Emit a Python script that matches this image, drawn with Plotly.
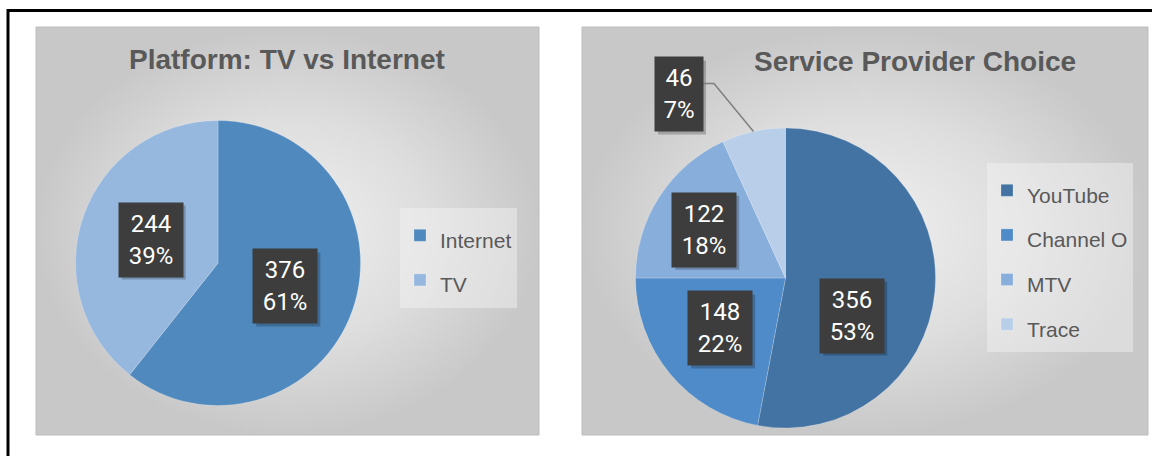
import math
import plotly.graph_objects as go

W, H = 1152, 456

# ---------------- data ----------------
platform_labels = ["Internet", "TV"]
platform_values = [376, 244]

provider_labels = ["YouTube", "Channel O", "MTV", "Trace"]
provider_values = [356, 148, 122, 46]

title_left = "Platform: TV vs Internet"
title_right = "Service Provider Choice"

# ---------------- style ----------------
platform_colors = ["#4F89BD", "#96B8DF"]
provider_colors = ["#4373A3", "#4F8BC9", "#88AEDC", "#B8CEE9"]

PIE1 = dict(cx=218, cy=263, r=142.5)
PIE2 = dict(cx=785.5, cy=278, r=150)

# label placement (fraction of radius, angle nudge in degrees)
pie1_label_f = [0.50, 0.50]
pie1_label_da = [0, 0]
pie2_label_f = [0.51, 0.55, 0.63, 1.415]
pie2_label_da = [24, 2, -2, -17.8]

PANEL_L = (36, 27, 539, 435)
PANEL_R = (582, 27, 1148, 435)

TEXT_GREY = "#595959"
FONT = "Liberation Sans"
LABEL_FONT = "Roboto"
LEGEND_TEXT_SIZE = 21
LEGEND_LINE_SIZE = 32   # controls row pitch of the legend
BOX_H = 58
BOX_PAD = 8


def px(x):
    return x / W


def py(y):
    return 1 - y / H


def domain(p):
    return dict(x=[px(p["cx"] - p["r"]), px(p["cx"] + p["r"])],
                y=[py(p["cy"] + p["r"]), py(p["cy"] - p["r"])])


def legend_text(labels):
    return [f'<span style="font-size:{LEGEND_TEXT_SIZE}px">{l}</span>' for l in labels]


fig = go.Figure()

# panel backgrounds with radial gradient
for (x0, y0, x1, y1) in (PANEL_L, PANEL_R):
    fig.add_trace(go.Scatter(
        x=[px(x0), px(x1), px(x1), px(x0), px(x0)],
        y=[py(y0), py(y0), py(y1), py(y1), py(y0)],
        mode="lines", fill="toself",
        line=dict(color="#BDBDBD", width=1),
        fillgradient=dict(type="radial",
                          colorscale=[[0, "#F0F0F0"], [0.55, "#DEDEDE"], [1, "#C8C8C8"]]),
        hoverinfo="skip", showlegend=False))

fig.add_trace(go.Pie(
    labels=legend_text(platform_labels), values=platform_values, sort=False,
    direction="clockwise", rotation=0,
    marker=dict(colors=platform_colors, line=dict(color="rgba(255,255,255,0.35)", width=0.6)),
    textinfo="none", domain=domain(PIE1), legend="legend",
    customdata=platform_labels, hovertemplate="%{customdata}: %{value} (%{percent})<extra></extra>"))

fig.add_trace(go.Pie(
    labels=legend_text(provider_labels), values=provider_values, sort=False,
    direction="clockwise", rotation=0,
    marker=dict(colors=provider_colors, line=dict(color="rgba(255,255,255,0.35)", width=0.6)),
    textinfo="none", domain=domain(PIE2), legend="legend2",
    customdata=provider_labels, hovertemplate="%{customdata}: %{value} (%{percent})<extra></extra>"))

annotations = []
shapes = []


def add_labels(values, pie, fr, da):
    total = sum(values)
    cum = 0
    for v, f, d in zip(values, fr, da):
        mid = (cum + v / 2) / total
        cum += v
        th = 2 * math.pi * mid
        th2 = th + math.radians(d)
        lx = pie["cx"] + f * pie["r"] * math.sin(th2)
        ly = pie["cy"] - f * pie["r"] * math.cos(th2)
        pct = round(100 * v / total)
        txt = f"{v}<br>{pct}%"
        nch = max(len(str(v)), len(f"{pct}%"))
        wbox = 16 * nch
        hw = wbox / 2 + BOX_PAD
        hh = BOX_H / 2 + BOX_PAD
        # soft shadow (offset rectangle)
        shapes.append(dict(type="rect", xref="paper", yref="paper", layer="above",
                           x0=px(lx - hw + 3), x1=px(lx + hw + 3),
                           y0=py(ly + hh + 3), y1=py(ly - hh + 3),
                           fillcolor="rgba(0,0,0,0.22)", line=dict(width=0)))
        annotations.append(dict(
            x=px(lx), y=py(ly), xref="paper", yref="paper", text=txt,
            showarrow=False, xanchor="center", yanchor="middle",
            borderpad=BOX_PAD, width=wbox, height=BOX_H,
            font=dict(family=LABEL_FONT, size=24, color="white"),
            bgcolor="#3D3D3D"))
        if f > 1:
            ex = pie["cx"] + pie["r"] * math.sin(th)
            ey = pie["cy"] - pie["r"] * math.cos(th)
            bx = lx + hw
            by = ly - 11
            shapes.append(dict(
                type="path", xref="paper", yref="paper",
                path=f"M{px(bx)},{py(by)} L{px(bx + 11)},{py(by)} L{px(ex)},{py(ey)}",
                line=dict(color="#7F7F7F", width=1.5)))


add_labels(platform_values, PIE1, pie1_label_f, pie1_label_da)
add_labels(provider_values, PIE2, pie2_label_f, pie2_label_da)

for t, (tx, ty) in ((title_left, (287, 60)), (title_right, (915, 62))):
    annotations.append(dict(x=px(tx), y=py(ty), xref="paper", yref="paper", text=t,
                            showarrow=False, xanchor="center", yanchor="middle",
                            font=dict(family=FONT, size=28, color=TEXT_GREY, weight="bold")))

# outer frame
shapes.append(dict(type="rect", xref="paper", yref="paper",
                   x0=px(8), x1=1.05, y0=-0.1, y1=py(10.5),
                   line=dict(color="black", width=3), layer="below"))

legend_common = dict(font=dict(family=FONT, size=LEGEND_LINE_SIZE, color=TEXT_GREY),
                     bgcolor="rgba(245,245,245,0.45)", borderwidth=0,
                     xanchor="left", yanchor="top")

fig.update_layout(
    width=W, height=H, margin=dict(l=0, r=0, t=0, b=0),
    paper_bgcolor="white", plot_bgcolor="rgba(0,0,0,0)",
    xaxis=dict(range=[0, 1], domain=[0, 1], visible=False, fixedrange=True),
    yaxis=dict(range=[0, 1], domain=[0, 1], visible=False, fixedrange=True),
    legend=dict(x=px(400), y=py(208), **legend_common),
    legend2=dict(x=px(987), y=py(163), **legend_common),
    annotations=annotations, shapes=shapes,
)

fig.write_html("out.html", config={"displayModeBar": False},
               post_script="document.body.style.margin='0';document.body.style.overflow='hidden';")
